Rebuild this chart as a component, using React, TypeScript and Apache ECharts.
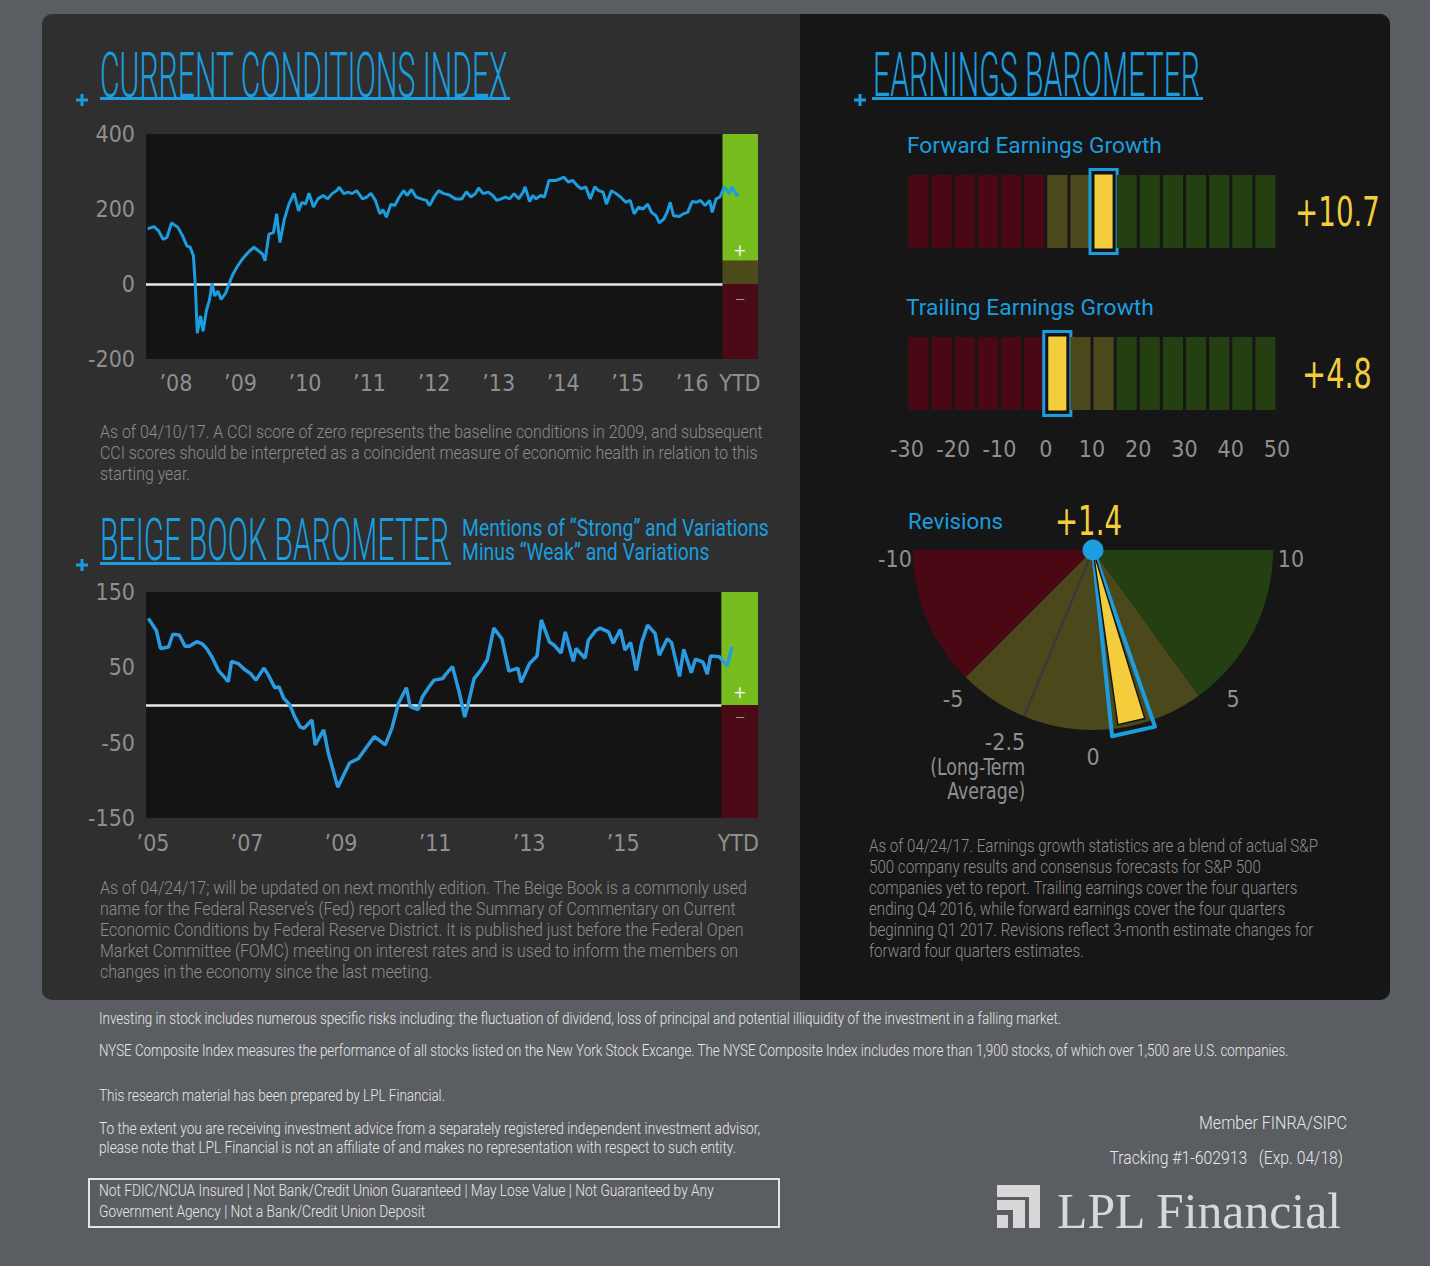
import React, { useEffect, useRef } from "react";
import * as echarts from "echarts";

// ---------------- DATA ----------------
const cciYears = [2008.06, 2008.16, 2008.23, 2008.30, 2008.36, 2008.43, 2008.53, 2008.60, 2008.67, 2008.72, 2008.77, 2008.80, 2008.83, 2008.88, 2008.92, 2008.97, 2009.02, 2009.06, 2009.10, 2009.15, 2009.20, 2009.27, 2009.32, 2009.37, 2009.44, 2009.51, 2009.57, 2009.64, 2009.71, 2009.78, 2009.84, 2009.88, 2009.94, 2010.01, 2010.06, 2010.11, 2010.18, 2010.25, 2010.33, 2010.40, 2010.45, 2010.51, 2010.56, 2010.63, 2010.70, 2010.78, 2010.85, 2010.92, 2010.99, 2011.03, 2011.10, 2011.17, 2011.23, 2011.30, 2011.39, 2011.46, 2011.52, 2011.59, 2011.66, 2011.71, 2011.76, 2011.83, 2011.89, 2011.96, 2012.03, 2012.08, 2012.15, 2012.22, 2012.30, 2012.38, 2012.43, 2012.50, 2012.57, 2012.65, 2012.73, 2012.83, 2012.93, 2013.00, 2013.07, 2013.14, 2013.19, 2013.26, 2013.34, 2013.41, 2013.47, 2013.54, 2013.61, 2013.67, 2013.74, 2013.81, 2013.88, 2013.91, 2013.98, 2014.03, 2014.08, 2014.15, 2014.21, 2014.28, 2014.38, 2014.45, 2014.51, 2014.58, 2014.65, 2014.72, 2014.78, 2014.85, 2014.92, 2014.99, 2015.05, 2015.12, 2015.17, 2015.25, 2015.32, 2015.39, 2015.47, 2015.54, 2015.60, 2015.67, 2015.74, 2015.81, 2015.87, 2015.94, 2015.99, 2016.06, 2016.11, 2016.16, 2016.21, 2016.30, 2016.36, 2016.43, 2016.50, 2016.57, 2016.63, 2016.70, 2016.77, 2016.81, 2016.87, 2016.93, 2017.00, 2017.07, 2017.12, 2017.19, 2017.22];
const cciValues = [147, 153, 142, 119, 124, 163, 151, 129, 101, 98, 75, -6, -131, -85, -126, -72, -41, 2, -32, -19, -41, -24, -1, 22, 44, 62, 75, 88, 98, 88, 80, 62, 133, 137, 187, 111, 173, 213, 242, 195, 218, 213, 242, 205, 227, 236, 227, 241, 249, 258, 241, 245, 241, 249, 227, 232, 242, 223, 187, 198, 178, 213, 209, 232, 249, 236, 252, 232, 227, 223, 209, 232, 249, 241, 238, 227, 227, 246, 232, 241, 256, 241, 245, 236, 223, 227, 232, 227, 241, 227, 245, 259, 220, 236, 227, 236, 232, 276, 276, 280, 285, 272, 276, 262, 254, 259, 227, 259, 249, 245, 213, 249, 241, 232, 218, 223, 187, 205, 200, 213, 191, 182, 163, 173, 191, 218, 182, 180, 187, 191, 220, 218, 223, 209, 223, 191, 227, 232, 259, 241, 259, 236, 241];
const cciTickValues = [2008.5, 2009.5, 2010.5, 2011.5, 2012.5, 2013.5, 2014.5, 2015.5, 2016.5, 2017.24];
const cciTickLabels = ["\u201908", "\u201909", "\u201910", "\u201911", "\u201912", "\u201913", "\u201914", "\u201915", "\u201916", "YTD"];
const cciYTicks = [-200, 0, 200, 400];
const cciXRange = [2008.035, 2017.52];
const cciYRange = [-200, 400];
const cciYtdStart = 2016.97;
const cciGreenFrom = 62;

const beigeYears = [2004.90, 2005.07, 2005.16, 2005.33, 2005.42, 2005.56, 2005.68, 2005.77, 2005.93, 2006.05, 2006.14, 2006.25, 2006.39, 2006.60, 2006.67, 2006.81, 2006.97, 2007.07, 2007.19, 2007.36, 2007.45, 2007.59, 2007.68, 2007.78, 2007.91, 2008.01, 2008.13, 2008.21, 2008.38, 2008.45, 2008.63, 2008.73, 2008.93, 2009.04, 2009.18, 2009.37, 2009.53, 2009.71, 2009.94, 2010.08, 2010.22, 2010.39, 2010.47, 2010.64, 2010.73, 2010.87, 2010.98, 2011.16, 2011.23, 2011.37, 2011.51, 2011.63, 2011.70, 2011.83, 2011.97, 2012.11, 2012.25, 2012.42, 2012.57, 2012.76, 2012.83, 2013.01, 2013.17, 2013.26, 2013.43, 2013.54, 2013.68, 2013.77, 2013.94, 2014.00, 2014.19, 2014.26, 2014.42, 2014.51, 2014.69, 2014.79, 2014.94, 2015.04, 2015.16, 2015.28, 2015.40, 2015.52, 2015.68, 2015.77, 2015.94, 2016.03, 2016.20, 2016.29, 2016.45, 2016.54, 2016.70, 2016.79, 2016.86, 2017.05, 2017.21, 2017.32];
const beigeValues = [115, 99, 75, 77, 94, 93, 78, 78, 84, 81, 75, 64, 46, 31, 58, 55, 46, 42, 33, 49, 40, 23, 24, 9, 0, -15, -29, -31, -20, -53, -33, -64, -109, -95, -77, -71, -57, -42, -53, -31, 2, 23, -2, -6, 11, 24, 33, 35, 41, 51, 18, -16, 0, 35, 46, 60, 102, 88, 45, 49, 30, 55, 65, 113, 84, 79, 69, 97, 58, 75, 62, 86, 99, 102, 97, 82, 100, 73, 83, 46, 84, 106, 95, 66, 88, 83, 38, 74, 43, 61, 57, 41, 65, 64, 52, 77];
const beigeTickValues = [2005, 2007, 2009, 2011, 2013, 2015, 2017.45];
const beigeTickLabels = ["\u201905", "\u201907", "\u201909", "\u201911", "\u201913", "\u201915", "YTD"];
const beigeYTicks = [-150, -50, 50, 150];
const beigeXRange = [2004.85, 2017.87];
const beigeYRange = [-150, 150];
const beigeYtdStart = 2017.09;

const earnBins = [-30, -25, -20, -15, -10, -5, 0, 5, 10, 15, 20, 25, 30, 35, 40, 45];
const earnBinWidth = 5;
const earnTicks = [-30, -20, -10, 0, 10, 20, 30, 40, 50];
const earnZoneBreaks = [0, 15];
const forwardGrowth = 10.7;
const trailingGrowth = 4.8;

const revisionValue = 1.4;
const revisionAverage = -2.5;
const revisionZones = [[-10, -5], [-5, 4], [4, 10]];
const revisionTicks = [-10, -5, 0, 5, 10];
const revisionTickLabels = ["-10", "-5", "0", "5", "10"];
const revisionAverageLabels = ["-2.5", "(Long-Term", "Average)"];

// ---------------- STYLE ----------------
const BLUE = "#1b9ddf";
const YELLOW = "#f3cd3b";
const GRAY = "#8f8f8f";
const RED = "#4a0714";
const OLIVE = "#4b491b";
const GREEN = "#243f11";
const NARROW = '"Liberation Sans Narrow", "DejaVu Sans Condensed", "Roboto Condensed", sans-serif';
const ROBOTO = 'Roboto, "Noto Sans", sans-serif';
const SERIF = '"Liberation Serif", "DejaVu Serif", serif';
const TICK_SIZE = 23;

let measureCtx: CanvasRenderingContext2D | null = null;
function textW(s: string, size: number, family: string, weight: number | string) {
  if (!measureCtx) measureCtx = document.createElement("canvas").getContext("2d");
  measureCtx!.font = `${weight} ${size}px ${family}`;
  return measureCtx!.measureText(s).width;
}

type TOpt = {
  size: number;
  family?: string;
  weight?: number | string;
  color: string;
  fitWidth?: number;
  align?: string;
  vAlign?: string;
  lineHeight?: number;
};
function T(text: string, x: number, y: number, o: TOpt) {
  const family = o.family ?? ROBOTO;
  const weight = o.weight ?? 400;
  let sx = 1;
  if (o.fitWidth) {
    const w = textW(text.split("\n")[0], o.size, family, weight);
    if (w > 0) sx = o.fitWidth / w;
  }
  const align = o.align ?? "left";
  const va = o.vAlign ?? "middle";
  return {
    type: "text",
    x,
    y,
    scaleX: sx,
    z: 50,
    silent: true,
    style: {
      text,
      fill: o.color,
      fontSize: o.size,
      fontFamily: family,
      fontWeight: weight,
      align,
      textAlign: align,
      verticalAlign: va,
      textVerticalAlign: va,
      lineHeight: o.lineHeight,
    },
  };
}

function plus(cx: number, cy: number) {
  return [
    { type: "rect", z: 50, shape: { x: cx - 6, y: cy - 1.5, width: 12, height: 3 }, style: { fill: BLUE } },
    { type: "rect", z: 50, shape: { x: cx - 1.5, y: cy - 6, width: 3, height: 12 }, style: { fill: BLUE } },
  ];
}

const fmt = (vals: number[], labels: string[]) => (v: number) => {
  const i = vals.findIndex((t) => Math.abs(t - v) < 1e-6);
  return i >= 0 ? labels[i] : "";
};

function barRenderer(highlight: number) {
  return (params: any, api: any) => {
    const lo = api.value(0);
    const hi = api.value(1);
    const tl = api.coord([lo, 1]);
    const br = api.coord([hi, 0]);
    const gap = 1.5;
    const x = tl[0] + gap;
    const y = tl[1];
    const w = br[0] - tl[0] - gap * 2;
    const h = br[1] - tl[1];
    const color = lo < earnZoneBreaks[0] ? RED : lo < earnZoneBreaks[1] ? OLIVE : GREEN;
    if (highlight >= lo && highlight < hi) {
      return {
        type: "group",
        children: [
          { type: "rect", shape: { x: x - 3.5, y: y - 5.5, width: w + 7, height: h + 11 }, style: { fill: "none", stroke: BLUE, lineWidth: 3 } },
          { type: "rect", shape: { x: x, y: y - 1.5, width: w, height: h + 3 }, style: { fill: YELLOW, stroke: "#111", lineWidth: 2 } },
        ],
      };
    }
    return { type: "rect", shape: { x, y, width: w, height: h }, style: { fill: color } };
  };
}

const axisLabelStyle = { color: GRAY, fontSize: TICK_SIZE, fontFamily: NARROW };

function buildOption() {
  const cciData = cciYears.map((t, i) => [t, cciValues[i]]);
  const beigeData = beigeYears.map((t, i) => [t, beigeValues[i]]);
  const zoneColors = [RED, OLIVE, GREEN];

  const graphics: any[] = [
    { type: "rect", z: -10, shape: { x: 42, y: 14, width: 1348, height: 986, r: 10 }, style: { fill: "#2f2f2f" } },
    { type: "rect", z: -9, shape: { x: 800, y: 14, width: 590, height: 986, r: [0, 10, 10, 0] }, style: { fill: "#161616" } },
    // underlines
    { type: "rect", z: 50, shape: { x: 100, y: 97, width: 410, height: 3 }, style: { fill: BLUE } },
    { type: "rect", z: 50, shape: { x: 872, y: 97, width: 331, height: 3 }, style: { fill: BLUE } },
    { type: "rect", z: 50, shape: { x: 100, y: 562, width: 351, height: 3 }, style: { fill: BLUE } },
    ...plus(82, 100),
    ...plus(860, 100),
    ...plus(82, 565),
    // titles
    T("CURRENT CONDITIONS INDEX", 100, 75, { size: 63, weight: 300, color: BLUE, fitWidth: 408 }),
    T("EARNINGS BAROMETER", 873, 75, { size: 62, weight: 300, color: BLUE, fitWidth: 327 }),
    T("BEIGE BOOK BAROMETER", 100, 540, { size: 59, weight: 300, color: BLUE, fitWidth: 349 }),
    T("Mentions of \u201cStrong\u201d and Variations\nMinus \u201cWeak\u201d and Variations", 462, 516, {
      size: 24, color: BLUE, fitWidth: 307, vAlign: "top", lineHeight: 24,
    }),
    T("Forward Earnings Growth", 907, 145, { size: 22, color: BLUE, fitWidth: 255 }),
    T("Trailing Earnings Growth", 906, 307, { size: 22, color: BLUE, fitWidth: 248 }),
    T("Revisions", 908, 521, { size: 22, color: BLUE, fitWidth: 95 }),
    T("+10.7", 1295, 212, { size: 40, color: YELLOW, fitWidth: 85, family: NARROW }),
    T("+4.8", 1302, 374, { size: 40, color: YELLOW, fitWidth: 70, family: NARROW }),
    T("+1.4", 1055, 521, { size: 40, color: YELLOW, fitWidth: 67, family: NARROW }),
    // column signs
    T("+", 740, 250, { size: 20, color: "#ffffff", align: "center", weight: 300 }),
    T("\u2212", 740, 300, { size: 20, color: "#9a9a9a", align: "center", weight: 300 }),
    T("+", 740, 692, { size: 20, color: "#ffffff", align: "center", weight: 300 }),
    T("\u2212", 740, 718, { size: 20, color: "#9a9a9a", align: "center", weight: 300 }),
    // notes
    T(
      "As of 04/10/17. A CCI score of zero represents the baseline conditions in 2009, and subsequent\nCCI scores should be interpreted as a coincident measure of economic health in relation to this\nstarting year.",
      100, 421.5, { size: 18, weight: 300, color: "#8d8d8d", fitWidth: 663, vAlign: "top", lineHeight: 21 }
    ),
    T(
      "As of 04/24/17; will be updated on next monthly edition. The Beige Book is a commonly used\nname for the Federal Reserve\u2019s (Fed) report called the Summary of Commentary on Current\nEconomic Conditions by Federal Reserve District. It is published just before the Federal Open\nMarket Committee (FOMC) meeting on interest rates and is used to inform the members on\nchanges in the economy since the last meeting.",
      100, 877.5, { size: 18, weight: 300, color: "#8d8d8d", fitWidth: 648, vAlign: "top", lineHeight: 21 }
    ),
    T(
      "As of 04/24/17. Earnings growth statistics are a blend of actual S&P\n500 company results and consensus forecasts for S&P 500\ncompanies yet to report. Trailing earnings cover the four quarters\nending Q4 2016, while forward earnings cover the four quarters\nbeginning Q1 2017. Revisions reflect 3-month estimate changes for\nforward four quarters estimates.",
      869, 835.5, { size: 18, weight: 300, color: "#8d8d8d", fitWidth: 449, vAlign: "top", lineHeight: 21 }
    ),
    // footer
    T("Investing in stock includes numerous specific risks including: the fluctuation of dividend, loss of principal and potential illiquidity of the investment in a falling market.",
      99, 1019, { size: 16, weight: 300, color: "#e8e8e8", fitWidth: 963 }),
    T("NYSE Composite Index measures the performance of all stocks listed on the New York Stock Excange. The NYSE Composite Index includes more than 1,900 stocks, of which over 1,500 are U.S. companies.",
      99, 1051, { size: 16, weight: 300, color: "#e8e8e8", fitWidth: 1192 }),
    T("This research material has been prepared by LPL Financial.", 99, 1096, { size: 16, weight: 300, color: "#e8e8e8", fitWidth: 346 }),
    T("To the extent you are receiving investment advice from a separately registered independent investment advisor,\nplease note that LPL Financial is not an affiliate of and makes no representation with respect to such entity.",
      99, 1119.5, { size: 16, weight: 300, color: "#e8e8e8", fitWidth: 662, vAlign: "top", lineHeight: 19 }),
    { type: "rect", z: 50, shape: { x: 89, y: 1179, width: 690, height: 48 }, style: { fill: "none", stroke: "#e4e4e4", lineWidth: 2 } },
    T("Not FDIC/NCUA Insured | Not Bank/Credit Union Guaranteed | May Lose Value | Not Guaranteed by Any\nGovernment Agency | Not a Bank/Credit Union Deposit",
      99, 1180.5, { size: 16, weight: 300, color: "#e8e8e8", fitWidth: 615, vAlign: "top", lineHeight: 21 }),
    T("Member FINRA/SIPC", 1347, 1123, { size: 19, weight: 300, color: "#e8e8e8", fitWidth: 148, align: "right" }),
    T("Tracking #1-602913\u00a0\u00a0 (Exp. 04/18)", 1343, 1157, { size: 19, weight: 300, color: "#e8e8e8", fitWidth: 234, align: "right" }),
    T("LPL Financial", 1057, 1211, { size: 50, family: SERIF, color: "#d8d8d8", fitWidth: 286 }),
    // logo icon
    { type: "rect", z: 50, shape: { x: 997, y: 1185, width: 43, height: 12 }, style: { fill: "#d8d8d8" } },
    { type: "rect", z: 50, shape: { x: 1029, y: 1185, width: 11, height: 43 }, style: { fill: "#d8d8d8" } },
    { type: "rect", z: 50, shape: { x: 997, y: 1200, width: 28, height: 10 }, style: { fill: "#d8d8d8" } },
    { type: "rect", z: 50, shape: { x: 1013, y: 1200, width: 12, height: 28 }, style: { fill: "#d8d8d8" } },
    { type: "rect", z: 50, shape: { x: 997, y: 1215, width: 11, height: 13 }, style: { fill: "#d8d8d8" } },
  ];

  const hiddenAxis = { show: false };
  const noLines = { axisLine: { show: false }, axisTick: { show: false }, splitLine: { show: false } };

  return {
    animation: false,
    backgroundColor: "#5a5d62",
    grid: [
      { left: 146, top: 134, width: 612, height: 225, show: true, backgroundColor: "#141414", borderWidth: 0, outerBoundsMode: "none" },
      { left: 146, top: 592, width: 612, height: 226, show: true, backgroundColor: "#141414", borderWidth: 0, outerBoundsMode: "none" },
      { left: 907, top: 175, width: 370, height: 73, outerBoundsMode: "none" },
      { left: 907, top: 337, width: 370, height: 73, outerBoundsMode: "none" },
    ],
    xAxis: [
      {
        gridIndex: 0, type: "value", min: cciXRange[0], max: cciXRange[1], ...noLines,
        axisLabel: { ...axisLabelStyle, margin: 12, customValues: cciTickValues, formatter: fmt(cciTickValues, cciTickLabels) },
      },
      {
        gridIndex: 1, type: "value", min: beigeXRange[0], max: beigeXRange[1], ...noLines,
        axisLabel: { ...axisLabelStyle, margin: 13, customValues: beigeTickValues, formatter: fmt(beigeTickValues, beigeTickLabels) },
      },
      { gridIndex: 2, type: "value", min: -30, max: 50, ...noLines, axisLabel: { show: false } },
      {
        gridIndex: 3, type: "value", min: -30, max: 50, interval: 10, ...noLines,
        axisLabel: { ...axisLabelStyle, margin: 27, customValues: earnTicks },
      },
    ],
    yAxis: [
      {
        gridIndex: 0, type: "value", min: cciYRange[0], max: cciYRange[1], ...noLines,
        axisLabel: { ...axisLabelStyle, margin: 11, customValues: cciYTicks },
      },
      {
        gridIndex: 1, type: "value", min: beigeYRange[0], max: beigeYRange[1], ...noLines,
        axisLabel: { ...axisLabelStyle, margin: 11, customValues: beigeYTicks },
      },
      { gridIndex: 2, type: "value", min: 0, max: 1, ...noLines, axisLabel: { show: false } },
      { gridIndex: 3, type: "value", min: 0, max: 1, ...noLines, axisLabel: { show: false } },
    ],
    polar: { center: [1093, 550], radius: 180 },
    angleAxis: {
      type: "value", min: -20, max: 20, startAngle: 90, clockwise: false,
      show: false, axisLine: hiddenAxis, axisTick: hiddenAxis, axisLabel: hiddenAxis, splitLine: hiddenAxis,
    },
    radiusAxis: {
      type: "value", min: 0, max: 1,
      show: false, axisLine: hiddenAxis, axisTick: hiddenAxis, axisLabel: hiddenAxis, splitLine: hiddenAxis,
    },
    graphic: { elements: graphics },
    series: [
      {
        type: "line", xAxisIndex: 0, yAxisIndex: 0, data: cciData, showSymbol: false, symbol: "none",
        lineStyle: { color: BLUE, width: 3 }, z: 5, silent: true,
        markArea: {
          silent: true, label: { show: false },
          data: [
            [{ xAxis: cciYtdStart, yAxis: cciGreenFrom, itemStyle: { color: "#78bd20" } }, { xAxis: cciXRange[1], yAxis: cciYRange[1] }],
            [{ xAxis: cciYtdStart, yAxis: 0, itemStyle: { color: "#4c4a1a" } }, { xAxis: cciXRange[1], yAxis: cciGreenFrom }],
            [{ xAxis: cciYtdStart, yAxis: cciYRange[0], itemStyle: { color: "#4a0b16" } }, { xAxis: cciXRange[1], yAxis: 0 }],
          ],
        },
        markLine: {
          silent: true, symbol: ["none", "none"], label: { show: false },
          lineStyle: { color: "#e8e8e8", width: 2.5, type: "solid" },
          data: [[{ coord: [cciXRange[0], 0] }, { coord: [cciYtdStart, 0] }]],
        },
      },
      {
        type: "line", xAxisIndex: 1, yAxisIndex: 1, data: beigeData, showSymbol: false, symbol: "none",
        lineStyle: { color: "#2a9be0", width: 3.5 }, z: 5, silent: true,
        markArea: {
          silent: true, label: { show: false },
          data: [
            [{ xAxis: beigeYtdStart, yAxis: 0, itemStyle: { color: "#78bd20" } }, { xAxis: beigeXRange[1], yAxis: beigeYRange[1] }],
            [{ xAxis: beigeYtdStart, yAxis: beigeYRange[0], itemStyle: { color: "#4a0b16" } }, { xAxis: beigeXRange[1], yAxis: 0 }],
          ],
        },
        markLine: {
          silent: true, symbol: ["none", "none"], label: { show: false },
          lineStyle: { color: "#e8e8e8", width: 2.5, type: "solid" },
          data: [[{ coord: [beigeXRange[0], 0] }, { coord: [beigeYtdStart, 0] }]],
        },
      },
      {
        type: "custom", xAxisIndex: 2, yAxisIndex: 2, clip: false, silent: true,
        data: earnBins.map((b) => [b, b + earnBinWidth]),
        renderItem: barRenderer(forwardGrowth),
      },
      {
        type: "custom", xAxisIndex: 3, yAxisIndex: 3, clip: false, silent: true,
        data: earnBins.map((b) => [b, b + earnBinWidth]),
        renderItem: barRenderer(trailingGrowth),
      },
      {
        type: "custom", coordinateSystem: "polar", polarIndex: 0, silent: true, clip: false,
        data: revisionZones.map((z, i) => [1, z[0], z[1], i]),
        renderItem: (params: any, api: any) => {
          const lo = api.value(1);
          const hi = api.value(2);
          const zi = api.value(3);
          const pts: number[][] = [api.coord([0, lo]).slice(0, 2)];
          const steps = 48;
          for (let i = 0; i <= steps; i++) pts.push(api.coord([1, lo + ((hi - lo) * i) / steps]).slice(0, 2));
          return { type: "polygon", shape: { points: pts }, style: { fill: zoneColors[zi] } };
        },
      },
      {
        type: "custom", coordinateSystem: "polar", polarIndex: 0, silent: true, clip: false, z: 3,
        data: [[1, revisionAverage]],
        renderItem: (params: any, api: any) => {
          const v = api.value(1);
          const a = api.coord([0, v]);
          const b = api.coord([api.value(0), v]);
          return { type: "line", shape: { x1: a[0], y1: a[1], x2: b[0], y2: b[1] }, style: { stroke: "#3a3a3a", lineWidth: 2.5 } };
        },
      },
      {
        type: "custom", coordinateSystem: "polar", polarIndex: 0, silent: true, clip: false, z: 4,
        data: [[1, revisionValue]],
        renderItem: (params: any, api: any) => {
          const v = api.value(1);
          const c = api.coord([0, v]);
          return {
            type: "group",
            children: [
              {
                type: "polygon",
                shape: { points: [c.slice(0, 2), api.coord([1.04, v - 0.75]).slice(0, 2), api.coord([1.04, v + 0.75]).slice(0, 2)] },
                style: { fill: "none", stroke: BLUE, lineWidth: 4, lineJoin: "round" },
              },
              {
                type: "polygon",
                shape: { points: [c.slice(0, 2), api.coord([0.98, v - 0.5]).slice(0, 2), api.coord([0.98, v + 0.5]).slice(0, 2)] },
                style: { fill: YELLOW, stroke: "#151515", lineWidth: 1.5 },
              },
              { type: "circle", shape: { cx: c[0], cy: c[1], r: 10.5 }, style: { fill: BLUE } },
            ],
          };
        },
      },
      {
        type: "custom", coordinateSystem: "polar", polarIndex: 0, silent: true, clip: false, z: 4,
        data: revisionTicks.map((v) => [1.1, v]),
        renderItem: (params: any, api: any) => {
          const p = api.coord([api.value(0), api.value(1)]);
          return {
            type: "text", x: p[0], y: p[1] + 9,
            style: {
              text: revisionTickLabels[params.dataIndex], fill: GRAY, fontSize: TICK_SIZE, fontFamily: NARROW,
              align: "center", textAlign: "center", verticalAlign: "middle", textVerticalAlign: "middle",
            },
          };
        },
      },
      {
        type: "custom", coordinateSystem: "polar", polarIndex: 0, silent: true, clip: false, z: 4,
        data: [[1.1, revisionAverage]],
        renderItem: (params: any, api: any) => {
          const p = api.coord([api.value(0), api.value(1)]);
          return {
            type: "group",
            children: revisionAverageLabels.map((s, i) => ({
              type: "text",
              x: p[0] + 8,
              y: p[1] + 9 + i * 24.5,
              scaleX: i === 0 ? 1 : 0.84,
              style: {
                text: s, fill: GRAY, fontSize: TICK_SIZE, fontFamily: NARROW,
                align: "right", textAlign: "right", verticalAlign: "middle", textVerticalAlign: "middle",
              },
            })),
          };
        },
      },
    ],
  };
}

export default function App() {
  const ref = useRef<HTMLDivElement>(null);
  useEffect(() => {
    if (!ref.current) return;
    const chart = echarts.init(ref.current, null, { renderer: "svg" });
    chart.setOption(buildOption() as any);
    return () => chart.dispose();
  }, []);
  return <div ref={ref} style={{ position: "absolute", left: 0, top: 0, width: 1430, height: 1266 }} />;
}
